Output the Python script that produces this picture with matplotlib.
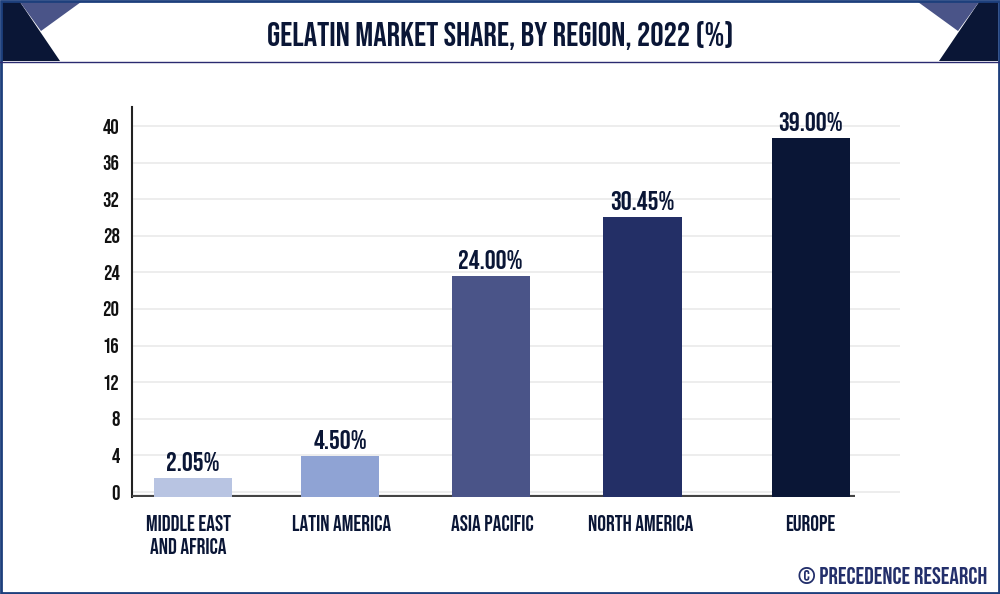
import matplotlib
matplotlib.use("Agg")
import matplotlib.pyplot as plt
from matplotlib.patches import Polygon

# data
regions = ["MIDDLE EAST\nAND AFRICA", "LATIN AMERICA", "ASIA PACIFIC", "NORTH AMERICA", "EUROPE"]
shares = [2.05, 4.50, 24.00, 30.45, 39.00]
share_labels = ["2.05%", "4.50%", "24.00%", "30.45%", "39.00%"]
y_ticks = [0, 4, 8, 12, 16, 20, 24, 28, 32, 36, 40]
bar_colors = ["#b8c4e2", "#8fa3d4", "#4a5488", "#232f66", "#0a1636"]
bar_pos = [0, 0.95, 1.92, 2.90, 3.985]
label_pos = [-0.03, 0.955, 1.93, 2.89, 3.98]

W, H = 1000, 594
DARK = "#0a1636"
FONT = ["Bebas Neue", "Oswald", "Liberation Sans", "DejaVu Sans"]

fig = plt.figure(figsize=(W / 100, H / 100), dpi=100, facecolor="white")

# frame and header in pixel coordinates
bg = fig.add_axes([0, 0, 1, 1])
bg.set_xlim(0, W)
bg.set_ylim(H, 0)
bg.axis("off")
bg.add_patch(Polygon([(2, 2), (20, 2), (60, 61), (2, 61)], fc=DARK, ec="none"))
bg.add_patch(Polygon([(20, 2), (81, 2), (41, 31)], fc="#4a5488", ec="none"))
bg.add_patch(Polygon([(998, 2), (979, 2), (939, 61), (998, 61)], fc=DARK, ec="none"))
bg.add_patch(Polygon([(918, 2), (979, 2), (958, 31)], fc="#4a5488", ec="none"))
bg.plot([0, W], [61.5, 61.5], color="#2a2a70", lw=1.0)
bg.add_patch(plt.Rectangle((1, 1), W - 2, H - 2, fc="none", ec="#1d3f7c", lw=2))

bg.text(500, 35, "GELATIN MARKET SHARE, BY REGION, 2022 (%)", ha="center", va="center",
        fontsize=24, color=DARK, family=FONT)
bg.text(987, 575, "© PRECEDENCE RESEARCH", ha="right", va="center",
        fontsize=17, color="#232f6b", family=FONT)

# axes box: x 132-900, y 107-497
left, right, top, bottom = 132, 900, 107, 497
rect = [left / W, 1 - bottom / H, (right - left) / W, (bottom - top) / H]

# grid axis: 0 sits at y=492, 40 at y=126
grid_ax = fig.add_axes(rect)
grid_ax.patch.set_alpha(0)
px_per_unit = (492 - 126) / 40
grid_ax.set_ylim(-(bottom - 492) / px_per_unit, (492 - top) / px_per_unit)
grid_ax.set_xlim(0, 1)
grid_ax.set_yticks(y_ticks)
grid_ax.set_yticklabels([str(t) for t in y_ticks], fontsize=15, color="#111111", family=FONT)
grid_ax.tick_params(axis="y", length=0, pad=9)
grid_ax.set_xticks([])
grid_ax.grid(axis="y", color="#ececec", lw=1.3)
grid_ax.set_axisbelow(True)
for s in ["top", "right", "bottom"]:
    grid_ax.spines[s].set_visible(False)
grid_ax.spines["left"].set_color("#222222")
grid_ax.spines["left"].set_linewidth(1.5)

# bars axis: baseline at y=497
ax = fig.add_axes(rect)
ax.patch.set_alpha(0)
ax.set_ylim(0, (bottom - top) / 9.2)
ax.set_xlim(-0.394, 4.561)
ax.hlines(0, -0.394, 4.271, color="#444444", lw=3, zorder=1)
ax.bar(bar_pos, shares, width=0.505, color=bar_colors, zorder=2)
for x, v, lab in zip(bar_pos, shares, share_labels):
    ax.annotate(lab, (x, v), xytext=(0, 5), textcoords="offset points", ha="center", va="bottom",
                fontsize=19.5, color=DARK, family=FONT)
ax.set_xticks(label_pos)
ax.set_xticklabels(regions, fontsize=15.7, color=DARK, family=FONT, linespacing=1.45)
ax.tick_params(axis="x", length=0, pad=13)
ax.set_yticks([])
for s in ax.spines.values():
    s.set_visible(False)

fig.savefig("out.png", dpi=100)
